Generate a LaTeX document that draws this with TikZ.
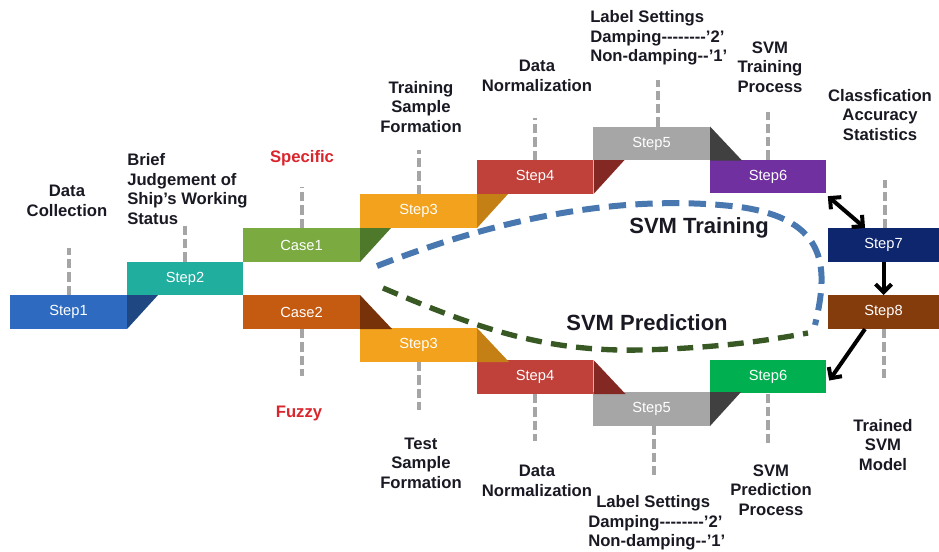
\documentclass[tikz,border=0pt]{standalone}
\usepackage{fontspec}
\setmainfont{Liberation Sans}
\usetikzlibrary{arrows.meta}

\definecolor{ink}{RGB}{25,25,35}
\definecolor{redtxt}{RGB}{218,37,45}
\definecolor{leadgrey}{RGB}{165,165,165}
\definecolor{colA}{RGB}{46,107,192}   \definecolor{colAd}{RGB}{31,72,130}
\definecolor{colB}{RGB}{32,174,158}
\definecolor{colC}{RGB}{122,170,64}   \definecolor{colCd}{RGB}{78,120,42}
\definecolor{colD}{RGB}{242,162,28}   \definecolor{colDd}{RGB}{196,128,20}
\definecolor{colE}{RGB}{192,64,58}    \definecolor{colEd}{RGB}{132,40,36}
\definecolor{colF}{RGB}{166,166,166}  \definecolor{colFd}{RGB}{64,64,64}
\definecolor{colG}{RGB}{112,48,160}
\definecolor{colH}{RGB}{14,38,110}
\definecolor{colI}{RGB}{132,60,12}
\definecolor{colJ}{RGB}{197,90,17}    \definecolor{colJd}{RGB}{120,50,10}
\definecolor{colK}{RGB}{0,176,80}
\definecolor{trainblue}{RGB}{72,120,175}
\definecolor{predgreen}{RGB}{56,88,36}

\newcommand\hy{\mbox{-}}

\begin{document}
\begin{tikzpicture}[x=0.75pt,y=-0.75pt,
    box/.style={minimum width=87.4pt,minimum height=25.1pt,inner sep=0pt,
        text=white,font=\fontsize{11}{13}\selectfont},
    note/.style={align=center,inner sep=0pt,text=ink,
        font=\bfseries\fontsize{12.5}{14.6}\selectfont},
    leader/.style={draw=leadgrey,line width=3pt,dash pattern=on 7pt off 3pt},
    arr/.style={line width=3pt,>={Straight Barb[length=6pt,width=12pt]}}]
    \useasboundingbox (0,0) rectangle (939,551);

    % steps, upper branch
    \node[box,fill=colA] (s1) at (68.5,312) {Step1};
    \node[box,fill=colB] (s2) at (185,278.5) {Step2};
    \node[box,fill=colC] (c1) at (301.5,245) {Case1};
    \node[box,fill=colD] (t3) at (418.5,211) {Step3};
    \node[box,fill=colE] (t4) at (535,177) {Step4};
    \node[box,fill=colF] (t5) at (651.5,143.5) {Step5};
    \node[box,fill=colG] (t6) at (768,176.5) {Step6};
    \node[box,fill=colH,minimum width=83.3pt] (s7) at (883.5,245) {Step7};
    \node[box,fill=colI,minimum width=83.3pt] (s8) at (883.5,312) {Step8};
    % lower branch
    \node[box,fill=colJ] (c2) at (301.5,312) {Case2};
    \node[box,fill=colD] (p3) at (418.5,345) {Step3};
    \node[box,fill=colE] (p4) at (535,377) {Step4};
    \node[box,fill=colF] (p5) at (651.5,409) {Step5};
    \node[box,fill=colK] (p6) at (768,376.5) {Step6};

    % folds between steps
    \fill[colAd] (s1.north east) -- ++(31,0) -- (s1.south east) -- cycle;
    \fill[colCd] (c1.north east) -- ++(31,0) -- (c1.south east) -- cycle;
    \fill[colDd] (t3.north east) -- ++(31,0) -- (t3.south east) -- cycle;
    \fill[colEd] (t4.north east) -- ++(31,0) -- (t4.south east) -- cycle;
    \fill[colFd] (t5.north east) -- ([xshift=24pt]t5.south east) -- (t5.south east) -- cycle;
    \fill[colJd] (c2.north east) -- ([xshift=24pt]c2.south east) -- (c2.south east) -- cycle;
    \fill[colDd] (p3.north east) -- ([xshift=24pt]p3.south east) -- (p3.south east) -- cycle;
    \fill[colEd] (p4.north east) -- ([xshift=24pt]p4.south east) -- (p4.south east) -- cycle;
    \fill[colFd] (p5.north east) -- ++(31,0) -- (p5.south east) -- cycle;

    % notes
    \node[note] (lcoll) at (67,201) {Data\\Collection};
    \node[note,align=left,anchor=west] (ljudge) at (127,189) {Brief\\Judgement of\\Ship's Working\\Status};
    \node[note,text=redtxt] (lspec) at (302,158) {Specific};
    \node[note] (ltrain) at (421,107) {Training\\Sample\\Formation};
    \node[note] (lnormt) at (537,76) {Data\\Normalization};
    \node[note,align=left,anchor=west] (llabelt) at (590,38)
        {Label Settings\\Damping\hy\hy\hy\hy\hy\hy\hy\hy'2'\\Non-damping\hy\hy'1'};
    \node[note] (lsvmt) at (770,67) {SVM\\Training\\Process};
    \node[note] (lacc) at (880,115) {Classfication\\Accuracy\\Statistics};
    \node[note,text=redtxt] (lfuzzy) at (299,413) {Fuzzy};
    \node[note] (ltest) at (421,463) {Test\\Sample\\Formation};
    \node[note] (lnormp) at (537,481) {Data\\Normalization};
    \node[note,align=left,anchor=west] (llabelp) at (588,523)
        {\hspace*{6pt}Label Settings\\Damping\hy\hy\hy\hy\hy\hy\hy\hy'2'\\Non-damping\hy\hy'1'};
    \node[note] (lsvmp) at (771,490) {SVM\\Prediction\\Process};
    \node[note] (lmodel) at (883,445) {Trained\\SVM\\Model};

    % leaders
    \foreach \n/\l in {s1/47,s2/40,c1/41,t3/44,t4/42,t6/48}
        \draw[leader] (\n.north) -- ++(0,-\l);
    \draw[leader] ([xshift=5pt]t5.north) -- ++(0,-47);
    \draw[leader] ([xshift=1pt]s7.north) -- ++(0,-48);
    \foreach \n/\l in {c2/47,p3/48,p4/47,p6/49,s8/52}
        \draw[leader] (\n.south) -- ++(0,\l);
    \draw[leader] ([xshift=2pt]p5.south) -- ++(0,49);

    % svm loops
    \draw[trainblue,line width=4.5pt,dash pattern=on 13pt off 7pt]
        (377,266) .. controls (520,210) and (640,195) .. (740,207)
        .. controls (830,220) and (828,270) .. (815,325);
    \draw[predgreen,line width=4pt,dash pattern=on 12pt off 7pt]
        (383,288) .. controls (470,325) and (540,352) .. (640,350)
        .. controls (720,348) and (770,340) .. (808,333);
    \node[font=\bfseries\fontsize{16.5}{19}\selectfont,text=ink] (svmtr) at (699,228) {SVM Training};
    \node[font=\bfseries\fontsize{16.5}{19}\selectfont,text=ink] (svmpr) at (647,323) {SVM Prediction};

    % arrows
    \draw[arr,<->] ([xshift=1pt,yshift=-2pt]t6.south east) -- ([xshift=28pt]s7.north west);
    \draw[arr,->] (s7.south) -- (s8.north);
    \draw[arr,->] ([xshift=28pt]s8.south west) -- ([xshift=2pt,yshift=-3pt]p6.east);
\end{tikzpicture}
\end{document}
